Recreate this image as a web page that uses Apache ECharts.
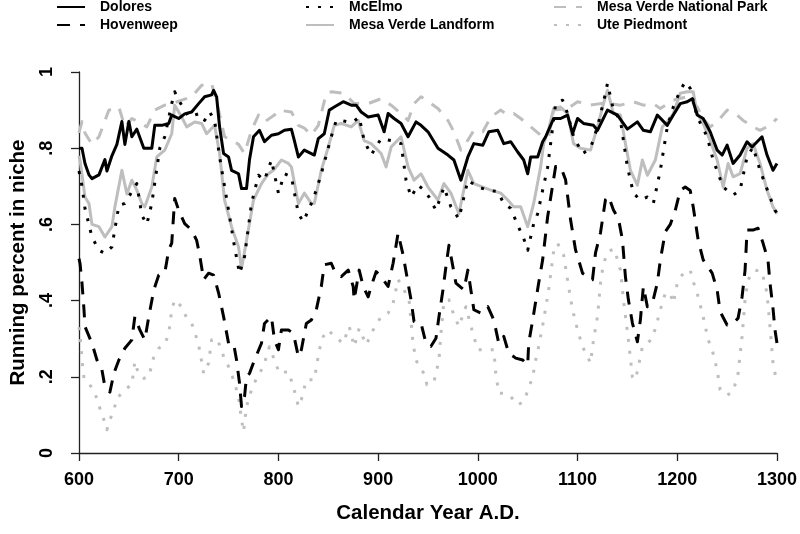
<!DOCTYPE html>
<html>
<head>
<meta charset="utf-8">
<script src="https://cdn.jsdelivr.net/npm/echarts@6/dist/echarts.min.js"></script>
<style>html,body{margin:0;padding:0;background:#fff}#c{width:800px;height:534px}</style>
</head>
<body>
<div id="c"></div>
<script>
const seriesNames = ['Dolores','Hovenweep','McElmo','Mesa Verde Landform','Mesa Verde National Park','Ute Piedmont'];
const xTicks = [600,700,800,900,1000,1100,1200,1300];
const yTickLabels = ['0','.2','.4','.6','.8','1'];

const dolores = [[600,0.80],[603,0.80],[606,0.76],[610,0.73],[613,0.72],[620,0.73],[626,0.77],[628,0.74],[633,0.78],[638,0.81],[643,0.87],[646,0.81],[650,0.87],[653,0.83],[658,0.85],[665,0.80],[673,0.80],[676,0.86],[683,0.86],[690,0.865],[693,0.887],[700,0.878],[706,0.89],[713,0.895],[720,0.917],[726,0.935],[733,0.94],[735,0.952],[738,0.935],[741,0.856],[745,0.786],[750,0.777],[753,0.742],[760,0.733],[763,0.694],[768,0.694],[771,0.77],[775,0.83],[781,0.847],[786,0.817],[793,0.834],[800,0.838],[806,0.847],[813,0.85],[816,0.82],[820,0.777],[826,0.795],[836,0.782],[840,0.825],[846,0.838],[851,0.90],[856,0.908],[865,0.922],[873,0.913],[878,0.913],[883,0.895],[890,0.882],[900,0.887],[906,0.843],[910,0.891],[916,0.878],[923,0.865],[930,0.83],[938,0.869],[943,0.86],[950,0.843],[960,0.80],[970,0.782],[976,0.769],[983,0.716],[990,0.777],[996,0.812],[1005,0.808],[1011,0.843],[1020,0.847],[1026,0.812],[1033,0.817],[1040,0.79],[1046,0.769],[1050,0.733],[1053,0.777],[1060,0.777],[1065,0.817],[1068,0.83],[1076,0.878],[1083,0.878],[1090,0.887],[1095,0.838],[1100,0.878],[1106,0.865],[1116,0.86],[1120,0.847],[1130,0.90],[1140,0.887],[1150,0.85],[1160,0.869],[1166,0.847],[1173,0.843],[1180,0.887],[1190,0.86],[1196,0.887],[1203,0.917],[1210,0.922],[1215,0.93],[1220,0.887],[1226,0.878],[1233,0.843],[1240,0.795],[1245,0.782],[1250,0.808],[1256,0.76],[1263,0.782],[1270,0.817],[1275,0.803],[1285,0.83],[1290,0.782],[1296,0.742],[1300,0.76]];

const hovenweep = [[600,0.51],[601,0.498],[603,0.446],[605,0.376],[606,0.332],[613,0.288],[618,0.244],[623,0.218],[626,0.174],[631,0.16],[635,0.209],[640,0.244],[646,0.275],[653,0.297],[656,0.358],[661,0.323],[666,0.297],[670,0.358],[675,0.428],[680,0.467],[686,0.472],[690,0.533],[693,0.551],[696,0.668],[700,0.637],[706,0.602],[713,0.585],[718,0.558],[721,0.52],[725,0.455],[730,0.472],[735,0.467],[740,0.42],[745,0.358],[750,0.288],[755,0.288],[758,0.244],[761,0.183],[763,0.122],[766,0.148],[768,0.20],[771,0.209],[776,0.244],[783,0.288],[786,0.34],[793,0.358],[796,0.297],[800,0.271],[803,0.323],[810,0.323],[815,0.314],[820,0.253],[823,0.271],[828,0.34],[833,0.349],[838,0.376],[843,0.437],[846,0.494],[853,0.498],[856,0.48],[863,0.463],[870,0.48],[875,0.437],[876,0.402],[881,0.48],[885,0.437],[890,0.41],[893,0.437],[898,0.476],[903,0.463],[910,0.437],[915,0.498],[920,0.577],[925,0.52],[930,0.446],[933,0.402],[936,0.345],[943,0.341],[948,0.288],[953,0.28],[958,0.301],[961,0.358],[965,0.428],[968,0.489],[971,0.545],[975,0.489],[978,0.446],[986,0.428],[990,0.48],[993,0.428],[996,0.376],[1003,0.367],[1010,0.384],[1016,0.349],[1021,0.288],[1026,0.306],[1031,0.262],[1038,0.249],[1045,0.244],[1050,0.231],[1051,0.288],[1055,0.349],[1061,0.446],[1065,0.507],[1070,0.62],[1078,0.752],[1083,0.752],[1088,0.717],[1093,0.612],[1098,0.533],[1100,0.516],[1105,0.472],[1110,0.463],[1115,0.455],[1118,0.525],[1123,0.578],[1128,0.665],[1131,0.674],[1136,0.638],[1141,0.615],[1145,0.56],[1148,0.463],[1151,0.402],[1155,0.341],[1160,0.292],[1163,0.349],[1166,0.437],[1170,0.384],[1175,0.393],[1180,0.446],[1183,0.506],[1188,0.581],[1193,0.60],[1198,0.637],[1203,0.689],[1208,0.698],[1213,0.689],[1216,0.646],[1221,0.558],[1226,0.507],[1235,0.472],[1240,0.428],[1243,0.371],[1250,0.336],[1256,0.34],[1261,0.354],[1265,0.41],[1268,0.48],[1270,0.585],[1276,0.585],[1281,0.59],[1286,0.551],[1291,0.506],[1293,0.446],[1296,0.38],[1298,0.323],[1300,0.288]];

const mcelmo = [[600,0.74],[603,0.70],[606,0.642],[613,0.567],[620,0.532],[626,0.524],[633,0.541],[640,0.65],[646,0.655],[653,0.686],[658,0.707],[663,0.624],[668,0.60],[673,0.655],[681,0.80],[686,0.83],[693,0.917],[696,0.948],[700,0.926],[710,0.882],[721,0.891],[726,0.873],[731,0.895],[736,0.873],[741,0.777],[750,0.637],[756,0.541],[761,0.471],[766,0.515],[773,0.655],[780,0.729],[786,0.716],[793,0.769],[800,0.682],[806,0.733],[813,0.725],[820,0.628],[825,0.607],[833,0.655],[838,0.69],[843,0.733],[853,0.83],[858,0.873],[863,0.873],[870,0.869],[875,0.869],[881,0.882],[886,0.82],[893,0.782],[903,0.825],[913,0.82],[923,0.812],[928,0.716],[933,0.672],[940,0.703],[946,0.69],[951,0.672],[958,0.637],[966,0.698],[973,0.646],[981,0.615],[990,0.716],[1000,0.698],[1010,0.69],[1020,0.686],[1026,0.655],[1033,0.642],[1040,0.598],[1046,0.563],[1050,0.532],[1056,0.602],[1060,0.628],[1065,0.69],[1070,0.75],[1078,0.917],[1085,0.926],[1090,0.891],[1096,0.83],[1105,0.786],[1113,0.80],[1120,0.856],[1128,0.944],[1130,0.97],[1136,0.90],[1143,0.873],[1150,0.751],[1156,0.682],[1163,0.664],[1170,0.672],[1176,0.655],[1183,0.742],[1190,0.856],[1196,0.908],[1203,0.952],[1208,0.974],[1213,0.957],[1220,0.882],[1230,0.83],[1236,0.769],[1246,0.698],[1256,0.677],[1263,0.69],[1270,0.777],[1276,0.803],[1283,0.742],[1293,0.672],[1298,0.637],[1300,0.63]];

const mvLandform = [[600,0.78],[601,0.769],[606,0.672],[610,0.655],[613,0.60],[620,0.594],[626,0.567],[633,0.594],[636,0.646],[643,0.742],[648,0.68],[653,0.716],[658,0.69],[663,0.655],[666,0.646],[673,0.698],[678,0.777],[686,0.795],[693,0.838],[696,0.913],[703,0.882],[708,0.856],[716,0.869],[723,0.865],[728,0.838],[736,0.86],[741,0.786],[746,0.664],[753,0.594],[760,0.541],[763,0.484],[768,0.558],[775,0.664],[783,0.707],[790,0.733],[795,0.742],[803,0.769],[810,0.76],[813,0.751],[820,0.655],[826,0.682],[833,0.655],[836,0.655],[843,0.742],[850,0.803],[856,0.86],[863,0.865],[873,0.856],[880,0.873],[886,0.82],[893,0.812],[903,0.786],[908,0.751],[913,0.803],[923,0.83],[930,0.751],[936,0.716],[943,0.733],[950,0.698],[960,0.664],[966,0.707],[973,0.682],[981,0.628],[990,0.742],[996,0.707],[1005,0.698],[1013,0.69],[1023,0.682],[1030,0.664],[1036,0.646],[1043,0.646],[1050,0.594],[1056,0.655],[1063,0.751],[1066,0.812],[1071,0.85],[1076,0.904],[1083,0.908],[1090,0.891],[1096,0.812],[1103,0.80],[1113,0.795],[1120,0.856],[1126,0.917],[1130,0.952],[1136,0.891],[1143,0.887],[1148,0.812],[1153,0.742],[1160,0.703],[1165,0.769],[1170,0.729],[1178,0.769],[1185,0.856],[1190,0.869],[1196,0.891],[1203,0.944],[1210,0.948],[1216,0.948],[1220,0.891],[1226,0.865],[1233,0.82],[1240,0.769],[1246,0.698],[1251,0.76],[1256,0.725],[1263,0.733],[1270,0.80],[1276,0.812],[1283,0.76],[1290,0.69],[1296,0.646],[1300,0.628]];

const mvNationalPark = [[600,0.84],[603,0.87],[606,0.84],[613,0.81],[620,0.83],[630,0.90],[640,0.908],[646,0.856],[653,0.878],[660,0.869],[668,0.856],[676,0.90],[686,0.913],[693,0.917],[703,0.926],[713,0.935],[723,0.965],[733,0.97],[740,0.90],[746,0.83],[753,0.821],[760,0.81],[766,0.786],[773,0.847],[780,0.887],[786,0.869],[796,0.887],[800,0.90],[813,0.895],[820,0.86],[826,0.853],[833,0.834],[840,0.86],[848,0.944],[853,0.948],[866,0.944],[876,0.917],[890,0.917],[903,0.93],[913,0.913],[923,0.891],[930,0.873],[936,0.917],[943,0.935],[953,0.917],[960,0.904],[970,0.873],[976,0.843],[983,0.795],[990,0.821],[996,0.847],[1005,0.843],[1013,0.882],[1023,0.90],[1030,0.887],[1036,0.891],[1043,0.878],[1053,0.856],[1063,0.834],[1071,0.83],[1076,0.90],[1090,0.904],[1100,0.922],[1113,0.913],[1123,0.917],[1133,0.917],[1143,0.913],[1156,0.922],[1166,0.913],[1176,0.917],[1183,0.904],[1196,0.926],[1210,0.935],[1220,0.908],[1226,0.878],[1233,0.856],[1240,0.869],[1250,0.90],[1260,0.887],[1266,0.873],[1276,0.856],[1283,0.847],[1293,0.86],[1300,0.878]];

const utePiedmont = [[600,0.33],[601,0.314],[603,0.244],[605,0.196],[610,0.183],[616,0.157],[621,0.117],[625,0.087],[628,0.061],[631,0.087],[635,0.113],[638,0.144],[643,0.157],[648,0.17],[653,0.179],[656,0.24],[660,0.205],[665,0.196],[670,0.20],[675,0.253],[680,0.275],[686,0.284],[690,0.314],[693,0.376],[696,0.402],[703,0.384],[708,0.354],[713,0.341],[718,0.301],[721,0.271],[725,0.209],[730,0.236],[733,0.297],[738,0.301],[743,0.271],[746,0.244],[750,0.227],[755,0.192],[760,0.148],[763,0.087],[765,0.056],[768,0.122],[773,0.166],[778,0.196],[785,0.227],[791,0.279],[796,0.244],[801,0.209],[810,0.214],[815,0.174],[820,0.122],[823,0.14],[828,0.192],[836,0.192],[841,0.271],[845,0.306],[850,0.323],[856,0.306],[865,0.288],[871,0.332],[876,0.279],[881,0.327],[888,0.284],[895,0.323],[903,0.358],[910,0.367],[915,0.393],[920,0.455],[926,0.428],[931,0.402],[935,0.288],[938,0.244],[941,0.227],[946,0.209],[949,0.179],[956,0.187],[961,0.244],[963,0.314],[966,0.398],[971,0.402],[976,0.362],[981,0.332],[988,0.384],[995,0.314],[1000,0.271],[1010,0.271],[1016,0.271],[1018,0.209],[1021,0.157],[1026,0.157],[1033,0.148],[1040,0.126],[1046,0.135],[1051,0.17],[1055,0.20],[1058,0.244],[1061,0.279],[1066,0.349],[1071,0.428],[1076,0.53],[1080,0.55],[1086,0.52],[1091,0.437],[1095,0.376],[1100,0.323],[1105,0.279],[1110,0.253],[1113,0.236],[1116,0.297],[1120,0.358],[1123,0.446],[1126,0.498],[1131,0.53],[1137,0.535],[1143,0.48],[1146,0.402],[1151,0.297],[1155,0.20],[1158,0.192],[1161,0.227],[1165,0.279],[1170,0.288],[1175,0.301],[1180,0.345],[1183,0.376],[1188,0.419],[1193,0.419],[1196,0.393],[1200,0.446],[1206,0.472],[1213,0.48],[1216,0.45],[1220,0.419],[1226,0.358],[1231,0.297],[1235,0.271],[1240,0.218],[1243,0.166],[1250,0.152],[1256,0.161],[1261,0.209],[1265,0.306],[1268,0.402],[1271,0.455],[1278,0.48],[1285,0.476],[1290,0.419],[1293,0.332],[1296,0.236],[1300,0.183]];

const FONT = 'Liberation Sans';
const BLACK = '#000000';
const GREY = '#bebebe';

function mkSeries(name, data, color, type, z) {
  return {
    name: name, type: 'line', data: data, symbol: 'none', silent: true, animation: false, z: z,
    lineStyle: { color: color, width: 3, type: type, cap: 'butt', join: 'round' },
    itemStyle: { color: color }
  };
}

const legendCommon = {
  orient: 'vertical', top: 0, padding: 0, itemWidth: 28, itemHeight: 14, itemGap: 4,
  selectedMode: false,
  itemStyle: { opacity: 0, color: 'rgba(0,0,0,0)', borderWidth: 0 },
  textStyle: { fontFamily: FONT, fontWeight: 'bold', fontSize: 14, color: '#000', padding: [0,0,0,10] }
};

const chart = echarts.init(document.getElementById('c'), null, { renderer: 'canvas' });
chart.setOption({
  animation: false,
  backgroundColor: '#ffffff',
  legend: [
    Object.assign({}, legendCommon, { left: 56, data: [seriesNames[0], seriesNames[1]] }),
    Object.assign({}, legendCommon, { left: 305, data: [seriesNames[2], seriesNames[3]] }),
    Object.assign({}, legendCommon, { left: 553, data: [seriesNames[4], seriesNames[5]] })
  ],
  grid: { left: 77, right: 23, top: 72, bottom: 81, containLabel: false },
  xAxis: {
    type: 'value', min: 600, max: 1300, interval: 100,
    name: 'Calendar Year A.D.', nameLocation: 'middle', nameGap: 50, nameMoveOverlap: false,
    nameTextStyle: { fontFamily: FONT, fontWeight: 'bold', fontSize: 20.5, color: '#000' },
    axisLine: { show: true, onZero: false, lineStyle: { color: '#222', width: 1.3 } },
    axisTick: { show: true, length: 8, lineStyle: { color: '#222', width: 1.3 } },
    axisLabel: { fontFamily: FONT, fontWeight: 'bold', fontSize: 18, color: '#000', margin: 18,
      formatter: function (v) { return xTicks.indexOf(v) >= 0 ? String(v) : ''; } },
    splitLine: { show: false }
  },
  yAxis: {
    type: 'value', min: 0, max: 1, interval: 0.2,
    name: 'Running percent in niche', nameLocation: 'middle', nameGap: 50, nameRotate: 90, nameMoveOverlap: false,
    nameTextStyle: { fontFamily: FONT, fontWeight: 'bold', fontSize: 20.5, color: '#000' },
    axisLine: { show: true, lineStyle: { color: '#222', width: 1.3 } },
    axisTick: { show: true, length: 8, lineStyle: { color: '#222', width: 1.3 } },
    axisLabel: { fontFamily: FONT, fontWeight: 'bold', fontSize: 18, color: '#000', margin: 23, rotate: 90,
      formatter: function (v) { return yTickLabels[Math.round(v / 0.2)]; } },
    splitLine: { show: false }
  },
  series: [
    mkSeries(seriesNames[4], mvNationalPark, GREY, [12, 10], 1),
    mkSeries(seriesNames[5], utePiedmont, GREY, [3, 9], 2),
    mkSeries(seriesNames[3], mvLandform, GREY, 'solid', 3),
    mkSeries(seriesNames[2], mcelmo, BLACK, [3, 9], 4),
    mkSeries(seriesNames[1], hovenweep, BLACK, [13, 10], 5),
    mkSeries(seriesNames[0], dolores, BLACK, 'solid', 6)
  ]
});
</script>
</body>
</html>
